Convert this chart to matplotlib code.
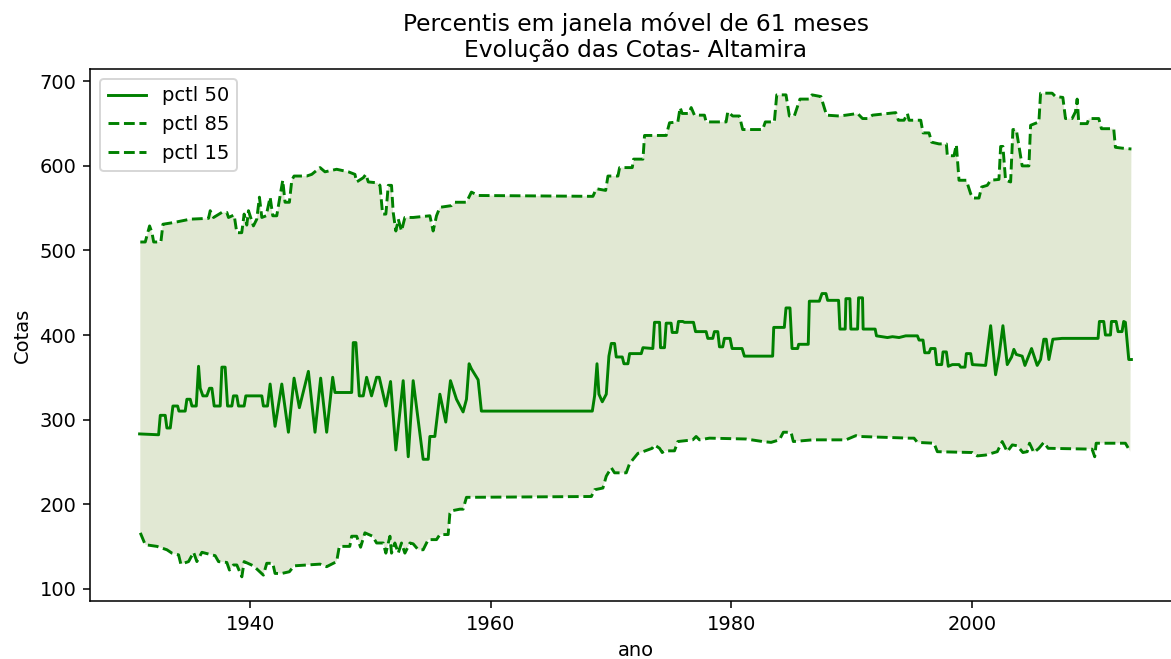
import numpy as np
import matplotlib
matplotlib.use("Agg")
import matplotlib.pyplot as plt

# pctl 50 (mediana)
ano_p50 = [1930.81, 1932.39, 1932.53, 1932.94, 1933.08, 1933.36, 1933.58, 1933.97, 1934.08, 1934.60,
           1934.74, 1935.02, 1935.16, 1935.52, 1935.71, 1935.85, 1936.07, 1936.40, 1936.62, 1936.82,
           1937.01, 1937.51, 1937.65, 1937.92, 1938.12, 1938.48, 1938.61, 1938.89, 1939.03, 1939.50,
           1939.64, 1940.97, 1941.10, 1941.44, 1941.66, 1942.07, 1942.63, 1943.18, 1943.65, 1944.09,
           1944.84, 1945.39, 1945.86, 1946.36, 1946.86, 1947.05, 1948.44, 1948.57, 1948.79, 1949.07,
           1949.40, 1949.68, 1950.09, 1950.51, 1950.73, 1951.28, 1951.67, 1952.11, 1952.72, 1953.14,
           1953.55, 1954.38, 1954.80, 1954.94, 1955.35, 1955.77, 1956.26, 1956.65, 1957.15, 1957.70,
           1957.98, 1958.20, 1958.39, 1958.95, 1959.22,
           1968.44, 1968.63, 1968.83, 1968.99, 1969.27, 1969.60, 1969.82, 1970.02, 1970.29, 1970.43,
           1970.93, 1971.07, 1971.40, 1971.54, 1972.51, 1972.65, 1973.47, 1973.61, 1974.03, 1974.11,
           1974.44, 1974.58, 1974.99, 1975.08, 1975.47, 1975.60, 1975.96, 1976.10, 1976.85, 1977.02,
           1977.90, 1978.04, 1978.45, 1978.59, 1978.87, 1979.01, 1979.28, 1979.42, 1979.89, 1980.06,
           1980.89, 1981.08, 1983.43, 1983.52, 1984.40, 1984.54, 1984.87, 1985.04, 1985.51, 1985.59,
           1986.39, 1986.48, 1987.31, 1987.53, 1987.86, 1988.00, 1988.91, 1989.02, 1989.46, 1989.52,
           1989.85, 1989.93, 1990.49, 1990.57, 1990.90, 1990.95, 1991.95, 1992.06, 1992.97, 1993.39,
           1993.94, 1994.49, 1995.46, 1995.60, 1995.93, 1996.07, 1996.43, 1996.57, 1996.93, 1997.07,
           1997.48, 1997.59, 1997.87, 1998.03, 1998.37, 1998.92, 1999.06, 1999.42, 1999.53, 1999.89,
           2000.03, 2001.13, 2001.55, 2001.96, 2002.24, 2002.57, 2002.93, 2003.29, 2003.48, 2003.68,
           2004.17, 2004.40, 2004.95, 2005.42, 2005.70, 2005.97, 2006.17, 2006.39, 2006.72, 2007.49,
           2008.88, 2009.71, 2010.48, 2010.59, 2010.95, 2011.09, 2011.51, 2011.59, 2011.98, 2012.14,
           2012.47, 2012.61, 2012.75, 2013.03, 2013.25]
cota_p50 = [283, 282, 305, 305, 290, 290, 316, 316, 310, 310,
            324, 324, 316, 316, 363, 337, 328, 328, 337, 337,
            316, 316, 362, 362, 316, 316, 328, 328, 316, 316,
            328, 328, 316, 316, 342, 292, 342, 285, 349, 314,
            357, 285, 349, 285, 350, 332, 332, 391, 391, 328,
            328, 350, 328, 350, 350, 316, 345, 264, 346, 256,
            346, 253, 253, 280, 280, 330, 297, 346, 324, 309,
            324, 366, 360, 347, 310,
            310, 328, 366, 330, 321, 330, 375, 390, 390, 374,
            374, 366, 366, 378, 378, 385, 384, 415, 415, 385,
            385, 414, 414, 403, 403, 416, 416, 415, 415, 404,
            404, 396, 396, 404, 404, 386, 386, 396, 396, 384,
            384, 375, 375, 409, 409, 432, 432, 384, 384, 389,
            389, 440, 440, 449, 449, 441, 441, 407, 407, 443,
            443, 407, 407, 444, 444, 407, 407, 399, 397, 398,
            397, 399, 399, 394, 394, 379, 379, 384, 384, 365,
            365, 380, 380, 363, 365, 365, 362, 362, 378, 378,
            365, 364, 411, 353, 375, 411, 365, 374, 383, 377,
            375, 364, 384, 364, 371, 395, 395, 371, 395, 396,
            396, 396, 396, 416, 416, 400, 400, 416, 416, 404,
            404, 416, 415, 371, 371]

# pctl 85
ano_p85 = [1930.87, 1931.28, 1931.64, 1931.84, 1931.98, 1932.58, 1932.75, 1933.64, 1935.02, 1936.54,
           1936.68, 1936.96, 1937.65, 1938.06, 1938.20, 1938.67, 1938.89, 1939.30, 1939.50, 1939.72,
           1939.86, 1940.27, 1940.55, 1940.77, 1940.97, 1941.33, 1941.66, 1941.88, 1942.21, 1942.35,
           1942.54, 1942.71, 1942.90, 1943.26, 1943.46, 1943.65, 1944.70, 1945.12, 1945.81, 1946.22,
           1947.19, 1948.16, 1948.71, 1948.85, 1949.40, 1949.62, 1949.82, 1950.56, 1950.79, 1951.01,
           1951.28, 1951.48, 1951.75, 1951.89, 1952.11, 1952.31, 1952.58, 1952.86, 1953.55, 1954.94,
           1955.21, 1955.49, 1955.77, 1956.73, 1957.01, 1957.98, 1958.39, 1958.95,
           1968.49, 1968.77, 1969.55, 1969.74, 1970.57, 1970.71, 1971.76, 1971.87, 1972.65, 1972.78,
           1974.58, 1974.86, 1975.55, 1975.74, 1975.91, 1976.46, 1976.66, 1976.93, 1977.76, 1977.90,
           1979.56, 1979.70, 1980.11, 1980.67, 1980.94, 1982.60, 1982.82, 1983.57, 1983.77, 1984.54,
           1984.82, 1985.23, 1985.70, 1986.48, 1986.70, 1987.44, 1987.91, 1988.96, 1989.52, 1990.49,
           1990.90, 1991.32, 1991.73, 1993.66, 1993.88, 1994.35, 1994.63, 1994.77, 1995.74, 1995.93,
           1996.43, 1996.65, 1997.26, 1997.87, 1997.95, 1998.50, 1998.70, 1998.92, 1999.53, 1999.89,
           2000.08, 2000.58, 2000.80, 2001.27, 2001.55, 2002.24, 2002.38, 2002.57, 2002.79, 2003.21,
           2003.40, 2003.68, 2004.17, 2004.73, 2004.87, 2005.56, 2005.70, 2006.66, 2006.94, 2007.55,
           2007.77, 2008.32, 2008.60, 2008.74, 2008.88, 2009.57, 2009.71, 2010.54, 2010.76, 2011.78,
           2011.92, 2012.47, 2013.25]
cota_p85 = [510, 510, 529, 521, 510, 510, 531, 533, 537, 538,
            547, 539, 545, 545, 539, 542, 521, 521, 543, 530,
            547, 529, 537, 563, 539, 541, 563, 541, 541, 553,
            569, 583, 557, 557, 583, 588, 588, 590, 598, 593,
            596, 593, 590, 581, 586, 590, 581, 580, 577, 543,
            543, 577, 577, 545, 523, 537, 523, 539, 539, 541,
            523, 541, 551, 553, 557, 557, 569, 565,
            564, 573, 571, 588, 588, 598, 598, 608, 608, 636,
            636, 651, 652, 669, 662, 662, 669, 660, 660, 652,
            652, 664, 659, 659, 643, 643, 652, 652, 684, 684,
            659, 659, 679, 679, 684, 682, 660, 659, 660, 662,
            656, 656, 660, 663, 654, 654, 662, 654, 654, 639,
            639, 628, 626, 626, 612, 612, 625, 583, 583, 567,
            562, 562, 575, 577, 583, 584, 623, 623, 583, 581,
            643, 643, 600, 600, 648, 652, 686, 686, 682, 681,
            656, 656, 664, 679, 650, 650, 656, 656, 644, 644,
            622, 621, 620]

# pctl 15
ano_p15 = [1930.87, 1931.28, 1932.25, 1933.08, 1933.50, 1934.05, 1934.24, 1934.88, 1935.30, 1935.57,
           1935.99, 1936.26, 1937.09, 1937.37, 1938.06, 1938.28, 1938.61, 1938.89, 1939.31, 1939.50,
           1940.27, 1941.10, 1941.38, 1941.88, 1942.07, 1942.63, 1943.26, 1943.65, 1945.81, 1946.36,
           1947.19, 1947.41, 1948.28, 1948.44, 1948.85, 1949.18, 1949.54, 1950.18, 1950.51, 1951.06,
           1951.28, 1951.62, 1951.75, 1952.03, 1952.31, 1952.58, 1952.86, 1953.28, 1953.55, 1953.97,
           1954.38, 1954.66, 1954.80, 1955.49, 1955.77, 1956.46, 1956.60, 1956.73, 1957.43, 1957.70,
           1957.98,
           1968.36, 1968.63, 1969.32, 1969.60, 1970.02, 1970.29, 1971.26, 1971.54, 1972.23, 1972.65,
           1973.42, 1973.61, 1974.03, 1974.25, 1974.44, 1975.27, 1975.55, 1976.79, 1977.07, 1977.35,
           1978.18, 1981.22, 1982.60, 1983.30, 1983.99, 1984.32, 1984.96, 1985.15, 1986.75, 1989.52,
           1990.35, 1990.62, 1994.77, 1995.18, 1995.46, 1996.84, 1997.12, 2000.03, 2000.44, 2001.13,
           2002.10, 2002.51, 2002.93, 2003.35, 2003.76, 2004.23, 2004.59, 2004.78, 2005.14, 2005.56,
           2005.97, 2006.33, 2009.98, 2010.20, 2010.32, 2012.75, 2013.16]
cota_p15 = [166, 152, 150, 146, 142, 140, 129, 132, 143, 132,
            143, 142, 139, 132, 131, 122, 128, 128, 114, 132,
            127, 116, 130, 130, 118, 118, 120, 127, 129, 126,
            132, 150, 150, 162, 162, 149, 166, 162, 154, 154,
            142, 162, 142, 154, 142, 154, 142, 154, 153, 146,
            146, 154, 158, 158, 164, 164, 189, 192, 194, 194,
            208,
            209, 217, 219, 233, 243, 237, 237, 248, 260, 262,
            266, 270, 266, 261, 263, 263, 274, 276, 280, 276,
            278, 277, 274, 273, 276, 285, 285, 274, 276, 276,
            281, 280, 278, 278, 273, 272, 262, 261, 257, 258,
            262, 274, 262, 270, 269, 261, 262, 272, 261, 266,
            273, 266, 265, 256, 272, 272, 262]

fig = plt.figure(figsize=(1171 / 140, 659 / 140), dpi=140)
ax = fig.add_axes([90 / 1171, 1 - 601 / 659, 1091 / 1171, 532 / 659])

ax.plot(ano_p50, cota_p50, color='green', linestyle='-', label='pctl 50')
ax.plot(ano_p85, cota_p85, color='green', linestyle='--', label='pctl 85')
ax.plot(ano_p15, cota_p15, color='green', linestyle='--', label='pctl 15')

# faixa entre os percentis 15 e 85
ax.fill(np.concatenate([ano_p85, ano_p15[::-1]]),
        np.concatenate([cota_p85, cota_p15[::-1]]),
        color='olivedrab', alpha=0.2, linewidth=0)

ax.set_title('Percentis em janela móvel de 61 meses\nEvolução das Cotas- Altamira')
ax.set_xlabel('ano')
ax.set_ylabel('Cotas')
ax.legend(loc='upper left')

fig.savefig('out.png', dpi=140)
